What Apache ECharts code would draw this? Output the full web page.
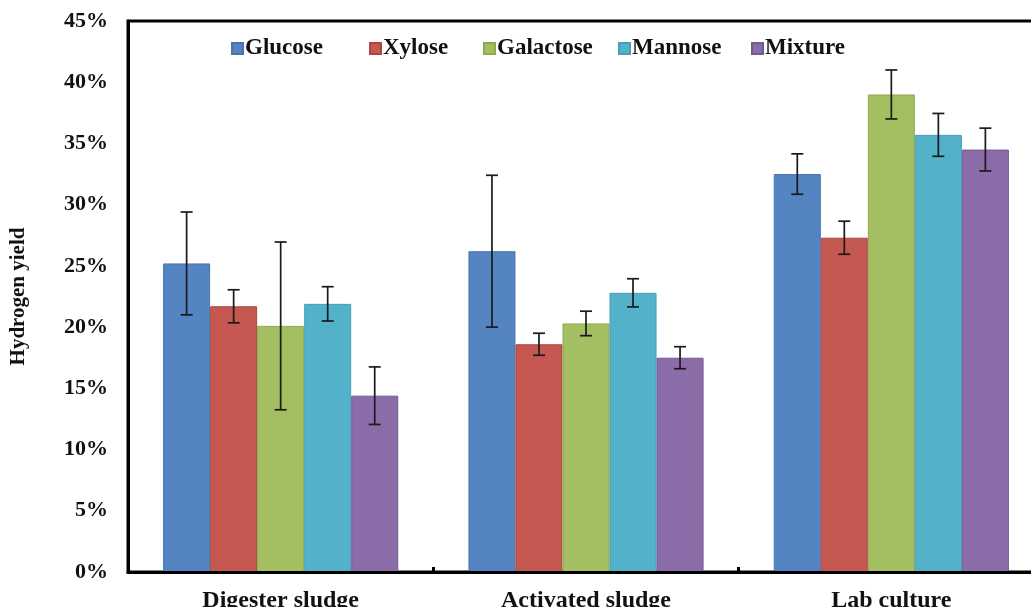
<!DOCTYPE html>
<html>
<head>
<meta charset="utf-8">
<script src="https://cdn.jsdelivr.net/npm/echarts@6/dist/echarts.min.js"></script>
<style>
html,body{margin:0;padding:0;background:#fff;}
#chart{width:1031px;height:607px;}
</style>
</head>
<body>
<div id="chart"></div>
<script>
var categories = ['Digester sludge', 'Activated sludge', 'Lab culture'];
var seriesNames = ['Glucose', 'Xylose', 'Galactose', 'Mannose', 'Mixture'];
var glucose = [25.2, 26.2, 32.5];
var xylose = [21.7, 18.6, 27.3];
var galactose = [20.1, 20.3, 39.0];
var mannose = [21.9, 22.8, 35.7];
var mixture = [14.4, 17.5, 34.5];
var glucoseErr = [4.2, 6.2, 1.65];
var xyloseErr = [1.35, 0.9, 1.35];
var galactoseErr = [6.85, 1.0, 2.0];
var mannoseErr = [1.4, 1.15, 1.75];
var mixtureErr = [2.35, 0.9, 1.75];
var yTicks = [0, 5, 10, 15, 20, 25, 30, 35, 40, 45];

var values = [glucose, xylose, galactose, mannose, mixture];
var errs = [glucoseErr, xyloseErr, galactoseErr, mannoseErr, mixtureErr];
var colors = ['#5584C2', '#C65852', '#A3BF62', '#53B1CA', '#8A6CA9'];
var borders = ['#4A74AC', '#A8463F', '#8DAA4D', '#45A0B8', '#735893'];
var FONT = '"Liberation Serif", "Times New Roman", serif';
var gapRatio = 0.23;

var chart = echarts.init(document.getElementById('chart'), null, {renderer: 'canvas'});

var series = [];
values.forEach(function (v, i) {
  series.push({
    name: seriesNames[i],
    type: 'bar',
    data: v,
    barGap: '0%',
    barCategoryGap: (gapRatio * 100) + '%',
    itemStyle: {color: colors[i], borderColor: borders[i], borderWidth: 1}
  });
});
values.forEach(function (v, i) {
  var data = v.map(function (val, c) { return [c, val - errs[i][c], val + errs[i][c]]; });
  series.push({
    type: 'custom',
    z: 5,
    silent: true,
    encode: {x: 0, y: [1, 2]},
    data: data,
    renderItem: function (params, api) {
      var c = api.value(0);
      var band = api.size([1, 0])[0];
      var bw = band * (1 - gapRatio) / 5;
      var off = (i - 2) * bw;
      var lo = api.coord([c, api.value(1)]);
      var hi = api.coord([c, api.value(2)]);
      var x = lo[0] + off;
      var cap = 6;
      var st = {stroke: '#1a1a1a', lineWidth: 1.7};
      return {
        type: 'group',
        children: [
          {type: 'line', shape: {x1: x, y1: lo[1], x2: x, y2: hi[1]}, style: st},
          {type: 'line', shape: {x1: x - cap, y1: lo[1], x2: x + cap, y2: lo[1]}, style: st},
          {type: 'line', shape: {x1: x - cap, y1: hi[1], x2: x + cap, y2: hi[1]}, style: st}
        ]
      };
    }
  });
});

var legendX = [231, 369, 483, 618, 751];
var legends = seriesNames.map(function (n, i) {
  return {
    data: [n],
    left: legendX[i] - 5,
    top: 32,
    itemWidth: 11,
    itemHeight: 11,
    icon: 'rect',
    itemGap: 0,
    textStyle: {fontFamily: FONT, fontWeight: 'bold', fontSize: 23, color: '#111', padding: [0, 0, 0, -3]},
    selectedMode: false
  };
});

chart.setOption({
  animation: false,
  backgroundColor: '#fff',
  color: colors,
  legend: legends,
  grid: {left: 128, top: 21, right: -13, bottom: 35, outerBoundsMode: 'none', containLabel: false, show: true, borderColor: '#000', borderWidth: 3, backgroundColor: 'transparent'},
  xAxis: {
    type: 'category',
    data: categories,
    z: 10,
    axisLine: {lineStyle: {color: '#000', width: 3}},
    axisTick: {show: true, inside: true, length: 5, lineStyle: {color: '#000', width: 3}},
    axisLabel: {fontFamily: FONT, fontWeight: 'bold', fontSize: 24, color: '#111', margin: 17}
  },
  yAxis: {
    type: 'value',
    min: yTicks[0],
    max: yTicks[yTicks.length - 1],
    interval: 5,
    z: 10,
    name: 'Hydrogen yield',
    nameLocation: 'middle',
    nameGap: 99,
    nameRotate: 90,
    nameTextStyle: {fontFamily: FONT, fontWeight: 'bold', fontSize: 21, color: '#111'},
    splitLine: {show: false},
    axisLine: {show: true, lineStyle: {color: '#000', width: 3}},
    axisTick: {show: false},
    axisLabel: {fontFamily: FONT, fontWeight: 'bold', fontSize: 22, color: '#111', margin: 20, formatter: '{value}%'}
  },
  series: series
});
</script>
</body>
</html>
